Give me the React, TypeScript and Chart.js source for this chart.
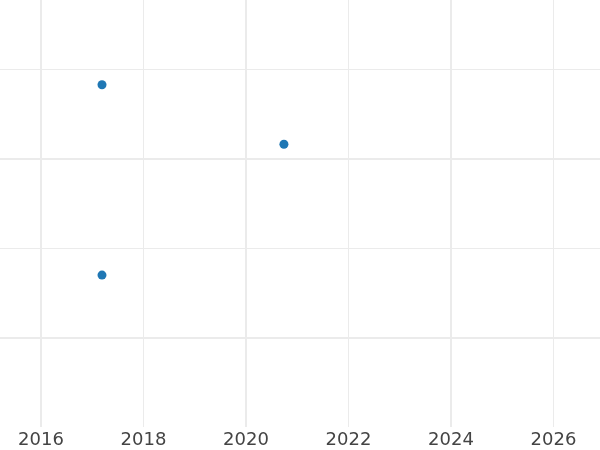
import React, { useEffect, useRef } from "react";
import { Chart, registerables } from "chart.js";

Chart.register(...registerables);

const xValues = [2017.19, 2020.74, 2017.19];
const yValues = [3.83, 3.165, 1.7];
const xTicks = [2016, 2018, 2020, 2022, 2024, 2026];
const yTicks = [1, 2, 3, 4];
const xRange = [2015.2, 2026.907];
const yRange = [0, 4.779];

export default function App() {
  const ref = useRef<HTMLCanvasElement | null>(null);
  useEffect(() => {
    document.body.style.margin = "0";
    if (!ref.current) return;
    const chart = new Chart(ref.current, {
      type: "scatter",
      data: {
        datasets: [
          {
            data: xValues.map((x, i) => ({ x, y: yValues[i] })),
            backgroundColor: "#1f77b4",
            borderColor: "#1f77b4",
            pointRadius: 4.5,
            borderWidth: 0,
          },
        ],
      },
      options: {
        animation: false,
        responsive: true,
        maintainAspectRatio: false,
        layout: { padding: 0, autoPadding: false },
        plugins: { legend: { display: false }, tooltip: { enabled: false } },
        scales: {
          x: {
            type: "linear",
            min: xRange[0],
            max: xRange[1],
            afterBuildTicks: (axis: any) => {
              axis.ticks = xTicks.map((v) => ({ value: v }));
            },
            afterFit: (axis: any) => {
              axis.height = 23;
            },
            border: { display: false },
            grid: {
              drawTicks: false,
              color: "#ebebeb",
              lineWidth: (ctx: any) => (ctx.tick && ctx.tick.value % 4 === 0 ? 2 : 1),
            },
            ticks: {
              padding: 2.2,
              color: "#444444",
              font: { family: "DejaVu Sans", size: 18 },
              maxRotation: 0,
              autoSkip: false,
              callback: (v: any) => String(v),
            },
          },
          y: {
            type: "linear",
            min: yRange[0],
            max: yRange[1],
            afterBuildTicks: (axis: any) => {
              axis.ticks = yTicks.map((v) => ({ value: v }));
            },
            border: { display: false },
            grid: {
              drawTicks: false,
              color: "#ebebeb",
              lineWidth: (ctx: any) => (ctx.tick && ctx.tick.value % 2 === 1 ? 2 : 1),
            },
            ticks: { display: false },
          },
        },
      },
    });
    return () => chart.destroy();
  }, []);
  return (
    <div style={{ width: 600, height: 450, position: "relative" }}>
      <canvas ref={ref} />
    </div>
  );
}
